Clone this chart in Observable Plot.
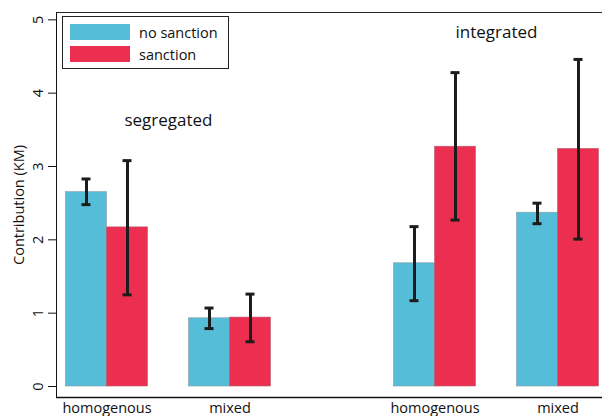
<!DOCTYPE html>
<html>
<head>
<meta charset="utf-8">
<script src="https://cdn.jsdelivr.net/npm/d3@7"></script>
<script src="https://cdn.jsdelivr.net/npm/@observablehq/plot@0.6"></script>
<style>
  html, body { margin: 0; padding: 0; background: #fff; }
  #wrap { position: relative; width: 602px; height: 416px; font-family: "Open Sans", "DejaVu Sans", sans-serif; }
  #legend { position: absolute; left: 62px; top: 16px; width: 165px; height: 51px; border: 1.5px solid #222; background: #fff; }
  .row { position: absolute; left: 7px; height: 16px; display: flex; align-items: center; }
  .sw { width: 60px; height: 16px; margin-right: 9px; }
  .lab { font-size: 14.5px; color: #111; white-space: nowrap; }
</style>
</head>
<body>
<div id="wrap"></div>
<script>
// ---- data ----
const panels = ["segregated", "integrated"];
const conditions = ["homogenous", "mixed"];
const seriesNames = ["no sanction", "sanction"];
const seriesColors = ["#55bdd7", "#ec2f50"];
// order: segregated-homogenous, segregated-mixed, integrated-homogenous, integrated-mixed
const noSanctionMean = [2.65, 0.93, 1.68, 2.37];
const noSanctionLo   = [2.48, 0.79, 1.17, 2.22];
const noSanctionHi   = [2.83, 1.07, 2.18, 2.50];
const sanctionMean   = [2.17, 0.94, 3.27, 3.24];
const sanctionLo     = [1.25, 0.61, 2.27, 2.01];
const sanctionHi     = [3.08, 1.26, 4.28, 4.46];
const yTicks = [0, 1, 2, 3, 4, 5];
const yTitle = "Contribution (KM)";

// ---- layout ----
const W = 602, H = 416;
const marginLeft = 56, marginRight = 0, marginTop = 12, marginBottom = 19;

// slot domain with gaps between conditions and panels
const slots = [];
const groups = [];
let gapId = 0;
panels.forEach((p, pi) => {
  if (pi > 0) for (let k = 0; k < 4; k++) slots.push("gap" + (gapId++));
  conditions.forEach((c, ci) => {
    if (ci > 0) for (let k = 0; k < 2; k++) slots.push("gap" + (gapId++));
    const key = p + "|" + c;
    slots.push(key);
    groups.push({key, panel: p, condition: c});
  });
});

const rows = [];
groups.forEach((g, i) => {
  rows.push({key: g.key, series: seriesNames[0], mean: noSanctionMean[i], lo: noSanctionLo[i], hi: noSanctionHi[i]});
  rows.push({key: g.key, series: seriesNames[1], mean: sanctionMean[i], lo: sanctionLo[i], hi: sanctionHi[i]});
});

const insetLeft = 29.5, insetRight = 24.5;
const bw = (W - marginLeft - marginRight - insetLeft - insetRight) / slots.length;
const off = bw / 2;
const yDomain = [-0.15, 5.1];

const labelOf = new Map(groups.map(g => [g.key, g.condition]));
const nos = rows.filter(d => d.series === seriesNames[0]);
const san = rows.filter(d => d.series === seriesNames[1]);

const annot = [
  {key: slots[1], text: panels[0], y: 3.63},
  {key: slots[slots.indexOf(groups[2].key) + 1], text: panels[1], y: 4.82}
];

const errMarks = (data, dx) => [
  Plot.ruleX(data, {x: "key", y1: "lo", y2: "hi", dx, stroke: "#1c1c1c", strokeWidth: 3}),
  Plot.tickY(data, {x: "key", y: "lo", dx, stroke: "#1c1c1c", strokeWidth: 3, insetLeft: off - 4.5, insetRight: off - 4.5}),
  Plot.tickY(data, {x: "key", y: "hi", dx, stroke: "#1c1c1c", strokeWidth: 3, insetLeft: off - 4.5, insetRight: off - 4.5})
];

const chart = Plot.plot({
  width: W, height: H,
  marginLeft, marginRight, marginTop, marginBottom,
  style: {fontFamily: "'Open Sans', 'DejaVu Sans', sans-serif", fontSize: "14.5px", color: "#111", background: "transparent"},
  x: {type: "band", domain: slots, padding: 0, insetLeft, insetRight,
      ticks: groups.map(g => g.key), tickFormat: k => labelOf.get(k) || "", tickSize: 0, tickPadding: 5, label: null},
  y: {domain: yDomain, ticks: yTicks, tickFormat: d3.format("d"), tickSize: 8, tickPadding: 6, tickRotate: -90, line: true,
      label: null, grid: false},
  marks: [
    Plot.barY(nos, {x: "key", y: "mean", dx: -off, fill: seriesColors[0], stroke: "#8a9aa0", strokeWidth: 0.6}),
    Plot.barY(san, {x: "key", y: "mean", dx: off, fill: seriesColors[1], stroke: "#b56070", strokeWidth: 0.6}),
    ...errMarks(nos, -off),
    ...errMarks(san, off),
    Plot.text(annot, {x: "key", y: "y", text: "text", dx: off, fontSize: 17, fill: "#111"}),
    Plot.text([yTitle], {frameAnchor: "left", text: d => d, rotate: -90, textAnchor: "middle", dx: -37, fontSize: 14.5, fill: "#111"}),
    Plot.ruleY([yDomain[0]], {stroke: "#111", strokeWidth: 1.5}),
    Plot.ruleY([yDomain[1]], {stroke: "#222", strokeWidth: 1.2})
  ]
});

const wrap = document.getElementById("wrap");
wrap.appendChild(chart);

// legend inside the plot box
const legend = document.createElement("div");
legend.id = "legend";
seriesNames.forEach((s, i) => {
  const r = document.createElement("div");
  r.className = "row";
  r.style.top = (7 + i * 22) + "px";
  r.innerHTML = `<div class="sw" style="background:${seriesColors[i]}"></div><span class="lab">${s}</span>`;
  legend.appendChild(r);
});
wrap.appendChild(legend);
</script>
</body>
</html>
